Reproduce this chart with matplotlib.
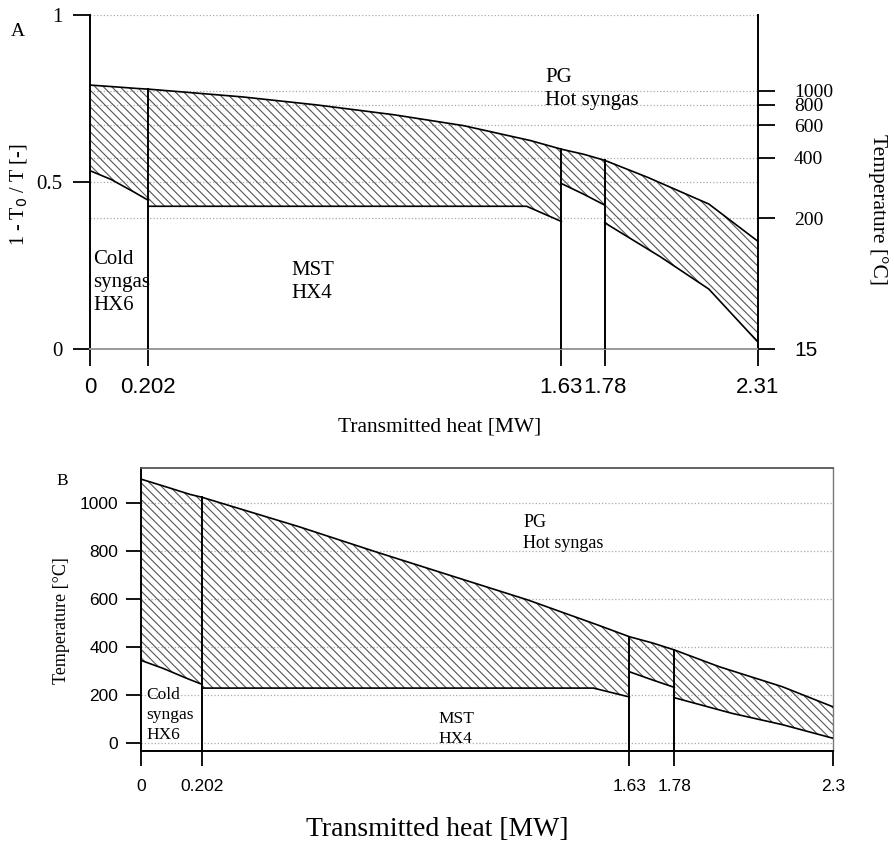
import numpy as np
import matplotlib
matplotlib.use('Agg')
import matplotlib.pyplot as plt

plt.rcParams['hatch.linewidth'] = 0.8
plt.rcParams['hatch.color'] = '#555555'

T0 = 288.15  # reference temperature, K (15 degC)

# Hot stream (continuous) : transmitted heat [MW] vs temperature [degC]
hot_q = [0, 0.073, 0.162, 0.202, 0.527, 0.782, 1.05, 1.291, 1.524, 1.63, 1.707, 1.78, 1.93, 2.14, 2.31]
hot_T = [1100, 1072, 1037, 1025, 902, 798, 692, 597, 493, 444, 418, 389, 319, 236, 152]

# Cold streams per exchanger segment
hx6_q = [0, 0.073, 0.151, 0.202]
hx6_T = [345, 312, 271, 246]
mst_q = [0.202, 1.51, 1.63]
mst_T = [230, 230, 193]
seg3_q = [1.63, 1.707, 1.78]
seg3_T = [298, 264, 233]
seg4_q = [1.78, 1.972, 2.14, 2.31]
seg4_T = [190, 125, 78, 21]

x_ticks = [0, 0.202, 1.63, 1.78, 2.31]
x_labels_top = ['0', '0.202', '1.63', '1.78', '2.31']
x_labels_bot = ['0', '0.202', '1.63', '1.78', '2.3']
temp_ticks_right = [15, 200, 400, 600, 800, 1000]
temp_ticks_bot = [0, 200, 400, 600, 800, 1000]
exergy_ticks = [0, 0.5, 1]

segments = [(hx6_q, hx6_T), (mst_q, mst_T), (seg3_q, seg3_T), (seg4_q, seg4_T)]
boundaries = [0.202, 1.63, 1.78]

SERIF = 'Liberation Serif'
SANS = 'Liberation Sans'


def exergy(T):
    return 1 - T0 / (np.asarray(T, dtype=float) + 273.15)


def draw_panel(ax, f, ybottom):
    hq = np.array(hot_q)
    hT = np.array(hot_T, dtype=float)
    for cq, cT in segments:
        a, b = cq[0], cq[-1]
        m = (hq >= a - 1e-9) & (hq <= b + 1e-9)
        xs = np.concatenate([hq[m], np.array(cq)[::-1]])
        ys = np.concatenate([f(hT[m]), f(np.array(cT, dtype=float))[::-1]])
        ax.fill(xs, ys, facecolor='none', edgecolor='#555555', hatch='\\\\\\\\', linewidth=0, zorder=2)
        ax.plot(cq, f(np.array(cT, dtype=float)), color='black', lw=1.2, zorder=4)
    ax.plot(hq, f(hT), color='black', lw=1.2, zorder=4)
    for bq in boundaries:
        top = f(np.interp(bq, hq, hT))
        ax.plot([bq, bq], [ybottom, top], color='black', lw=1.4, zorder=4)


fig = plt.figure(figsize=(8.95, 8.48), dpi=100)

# ---------------- Panel A ----------------
ax1 = fig.add_axes([90 / 895, 1 - 349 / 848, 668 / 895, 334 / 848])
ax1.set_xlim(0, 2.31)
ax1.set_ylim(0, 1)
grid_top = [0.5, 1.0] + list(exergy(temp_ticks_right[1:]))
for g in grid_top:
    ax1.axhline(g, color='#aaaaaa', lw=0.9, ls=':', zorder=1)
draw_panel(ax1, exergy, 0)
ax1.spines['top'].set_visible(False)
ax1.spines['left'].set_color('black')
ax1.spines['left'].set_linewidth(1.4)
ax1.spines['right'].set_color('black')
ax1.spines['right'].set_linewidth(1.4)
ax1.spines['bottom'].set_color('#999999')
ax1.spines['bottom'].set_linewidth(1.4)
ax1.set_xticks(x_ticks)
ax1.set_xticklabels(x_labels_top, fontfamily=SANS, fontsize=16)
ax1.set_yticks(exergy_ticks)
ax1.set_yticklabels(['0', '0.5', '1'], fontfamily=SERIF, fontsize=15)
ax1.tick_params(axis='both', direction='out', length=12, width=1.3, color='black')
ax1.tick_params(axis='x', pad=8)
ax1.tick_params(axis='y', pad=8)

ax1r = ax1.twinx()
ax1r.set_ylim(0, 1)
ax1r.set_yticks(list(exergy(temp_ticks_right)))
ax1r.set_yticklabels([str(t) for t in temp_ticks_right], fontfamily=SERIF, fontsize=14)
labs = ax1r.get_yticklabels()
labs[0].set_fontfamily(SANS)
labs[0].set_fontsize(15)
for s in ['top', 'left', 'bottom', 'right']:
    ax1r.spines[s].set_visible(False)
ax1r.tick_params(axis='y', direction='out', length=12, width=1.3, pad=14)

ax1.text(0.01, 0.2, 'Cold\nsyngas\nHX6', fontfamily=SERIF, fontsize=15, va='center', ha='left', linespacing=1.3, zorder=5)
ax1.text(0.698, 0.2, 'MST\nHX4', fontfamily=SERIF, fontsize=15, va='center', ha='left', linespacing=1.3, zorder=5)
ax1.text(1.573, 0.778, 'PG\nHot syngas', fontfamily=SERIF, fontsize=15, va='center', ha='left', linespacing=1.3, zorder=5)

fig.text(18 / 895, 1 - 32 / 848, 'A', fontfamily=SERIF, fontsize=14, ha='center', va='center')
fig.text(19 / 895, 1 - 195 / 848, r'1 - T$_0$ / T [-]', fontfamily=SERIF, fontsize=14.5,
         rotation=90, ha='center', va='center')
fig.text(440 / 895, 1 - 427 / 848, 'Transmitted heat [MW]', fontfamily=SERIF, fontsize=15.5,
         ha='center', va='center')
fig.text(878 / 895, 1 - 210 / 848, 'Temperature [°C]', fontfamily=SERIF, fontsize=15.5,
         rotation=270, ha='center', va='center')

# ---------------- Panel B ----------------
ax2 = fig.add_axes([141.3 / 895, 1 - 750.7 / 848, 691.7 / 895, 283 / 848])
ax2.set_xlim(0, 2.31)
ax2.set_ylim(-30.8, 1148)
for g in temp_ticks_bot:
    ax2.axhline(g, color='#aaaaaa', lw=0.9, ls=':', zorder=1)
draw_panel(ax2, lambda T: np.asarray(T, dtype=float), -30.8)
ax2.spines['top'].set_color('#555555')
ax2.spines['top'].set_linewidth(1.3)
ax2.spines['right'].set_color('#777777')
ax2.spines['right'].set_linewidth(1.0)
ax2.spines['left'].set_linewidth(1.4)
ax2.spines['bottom'].set_linewidth(1.4)
ax2.set_xticks(x_ticks)
ax2.set_xticklabels(x_labels_bot, fontfamily=SANS, fontsize=12.5)
ax2.set_yticks(temp_ticks_bot)
ax2.set_yticklabels([str(t) for t in temp_ticks_bot], fontfamily=SANS, fontsize=12.5)
ax2.tick_params(axis='both', direction='out', length=10.5, width=1.3, color='black')
ax2.tick_params(axis='x', pad=10)
ax2.tick_params(axis='y', pad=6)

ax2.text(0.016, 118, 'Cold\nsyngas\nHX6', fontfamily=SERIF, fontsize=12.5, va='center', ha='left', linespacing=1.3, zorder=5)
ax2.text(0.992, 60, 'MST\nHX4', fontfamily=SERIF, fontsize=12.5, va='center', ha='left', linespacing=1.3, zorder=5)
ax2.text(1.275, 876, 'PG\nHot syngas', fontfamily=SERIF, fontsize=13, va='center', ha='left', linespacing=1.3, zorder=5)

fig.text(62 / 895, 1 - 481 / 848, 'B', fontfamily=SERIF, fontsize=12.5, ha='center', va='center')
fig.text(62 / 895, 1 - 621 / 848, 'Temperature [°C]', fontfamily=SERIF, fontsize=13,
         rotation=90, ha='center', va='center')
fig.text(437 / 895, 1 - 830 / 848, 'Transmitted heat [MW]', fontfamily=SERIF, fontsize=20,
         ha='center', va='center')

fig.savefig('out.png', dpi=100)
